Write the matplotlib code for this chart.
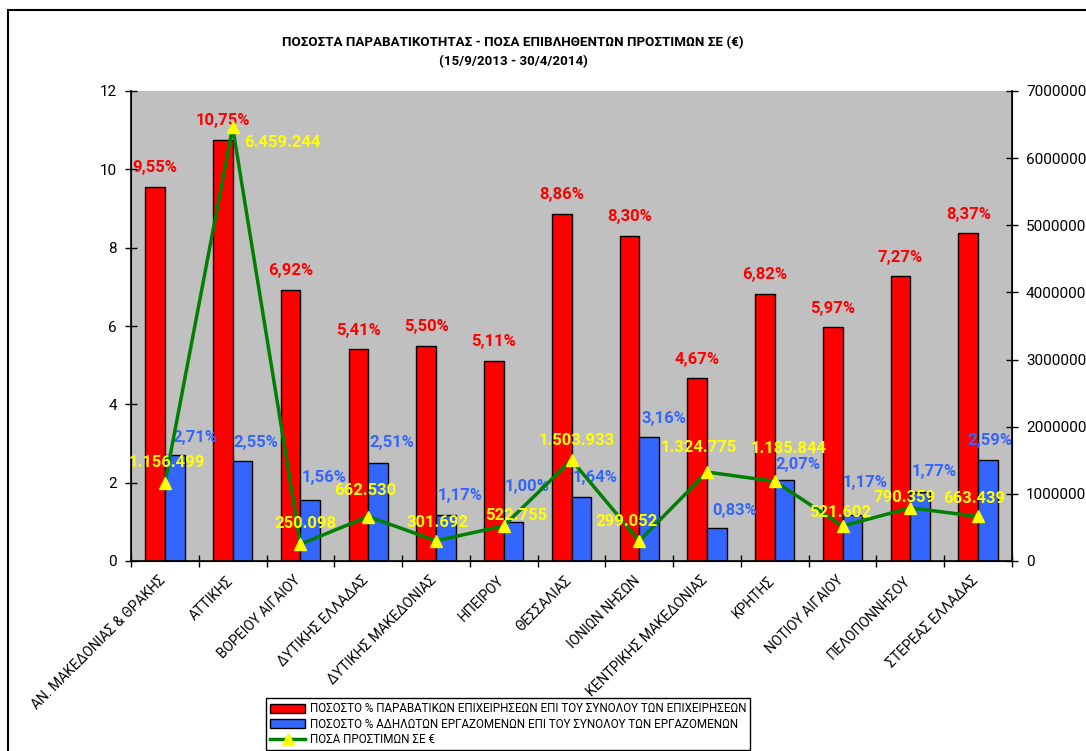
import matplotlib
matplotlib.use("Agg")
import matplotlib.pyplot as plt
from matplotlib.lines import Line2D
from matplotlib.patches import Patch, Rectangle
from matplotlib.ticker import FixedLocator, NullFormatter, FuncFormatter

plt.rcParams['font.family'] = ['Roboto', 'DejaVu Sans']

categories = ["ΑΝ. ΜΑΚΕΔΟΝΙΑΣ & ΘΡΑΚΗΣ", "ΑΤΤΙΚΗΣ", "ΒΟΡΕΙΟΥ ΑΙΓΑΙΟΥ", "ΔΥΤΙΚΗΣ ΕΛΛΑΔΑΣ",
              "ΔΥΤΙΚΗΣ ΜΑΚΕΔΟΝΙΑΣ", "ΗΠΕΙΡΟΥ", "ΘΕΣΣΑΛΙΑΣ", "ΙΟΝΙΩΝ ΝΗΣΩΝ",
              "ΚΕΝΤΡΙΚΗΣ ΜΑΚΕΔΟΝΙΑΣ", "ΚΡΗΤΗΣ", "ΝΟΤΙΟΥ ΑΙΓΑΙΟΥ", "ΠΕΛΟΠΟΝΝΗΣΟΥ", "ΣΤΕΡΕΑΣ ΕΛΛΑΔΑΣ"]
pct_businesses = [9.55, 10.75, 6.92, 5.41, 5.50, 5.11, 8.86, 8.30, 4.67, 6.82, 5.97, 7.27, 8.37]
pct_workers = [2.71, 2.55, 1.56, 2.51, 1.17, 1.00, 1.64, 3.16, 0.83, 2.07, 1.17, 1.77, 2.59]
fines = [1156499, 6459244, 250098, 662530, 301692, 522755, 1503933, 299052,
         1324775, 1185844, 521602, 790359, 663439]

legend_labels = ["ΠΟΣΟΣΤΟ % ΠΑΡΑΒΑΤΙΚΩΝ ΕΠΙΧΕΙΡΗΣΕΩΝ ΕΠΙ ΤΟΥ ΣΥΝΟΛΟΥ ΤΩΝ ΕΠΙΧΕΙΡΗΣΕΩΝ",
                 "ΠΟΣΟΣΤΟ % ΑΔΗΛΩΤΩΝ ΕΡΓΑΖΟΜΕΝΩΝ ΕΠΙ ΤΟΥ ΣΥΝΟΛΟΥ ΤΩΝ ΕΡΓΑΖΟΜΕΝΩΝ",
                 "ΠΟΣΑ ΠΡΟΣΤΙΜΩΝ ΣΕ €"]
title = "ΠΟΣΟΣΤΑ ΠΑΡΑΒΑΤΙΚΟΤΗΤΑΣ - ΠΟΣΑ ΕΠΙΒΛΗΘΕΝΤΩΝ ΠΡΟΣΤΙΜΩΝ ΣΕ (€)\n(15/9/2013 - 30/4/2014)"

# label offsets (pixels)
fine_offsets = [(2, 21), (50, -15), (5, 21), (-3, 26), (2, 18), (12, 10), (5, 20), (-13, 19),
                (-8, 25), (14, 33), (-2, 13), (-6, 10), (-4, 18)]
blue_offsets = [(20, 17), (13, 19), (14, 22), (14, 20), (14, 20), (14, 35), (14, 19), (15, 19),
                (18, 18), (13, 15), (13, 33), (14, 20), (2, 19)]

W, H = 1086, 751
fig = plt.figure(figsize=(W / 100, H / 100), dpi=100)
fig.patch.set_facecolor('white')
fig.add_artist(Rectangle((8 / W, -0.05), 2, (H - 10) / H + 0.05, transform=fig.transFigure,
                         fill=False, edgecolor='black', linewidth=1.5))

ax = fig.add_axes([131 / W, (H - 561) / H, 881 / W, 470 / H])
ax.set_facecolor('#C0C0C0')
n = len(categories)
x = list(range(n))
bw = 0.29
ax.bar([i - bw / 2 for i in x], pct_businesses, width=bw, color='#FF0000', edgecolor='black', linewidth=1, zorder=2)
ax.bar([i + bw / 2 for i in x], pct_workers, width=bw, color='#3366FF', edgecolor='black', linewidth=1, zorder=2)
ax.set_xlim(-0.5, n - 0.5)
ax.set_ylim(0, 12)
ax.set_yticks(range(0, 13, 2))
ax.tick_params(axis='y', direction='inout', length=8, width=1, labelsize=11, pad=6)
ax.xaxis.set_major_locator(FixedLocator([i - 0.5 for i in range(n + 1)]))
ax.xaxis.set_major_formatter(NullFormatter())
ax.xaxis.set_minor_locator(FixedLocator([i - 0.1 for i in x]))
ax.set_xticklabels(categories, minor=True, rotation=45, ha='right', rotation_mode='anchor', fontsize=10)
ax.tick_params(axis='x', which='major', direction='inout', length=8, width=1)
ax.tick_params(axis='x', which='minor', length=0, pad=9)
ax.spines['top'].set_visible(False)
for s in ['left', 'bottom']:
    ax.spines[s].set_linewidth(1.2)

for i, v in enumerate(pct_businesses):
    ax.annotate(f"{v:.2f}".replace('.', ',') + "%", (i - bw / 2, v), xytext=(0, 19),
                textcoords='offset pixels', ha='center', va='center', color='#FF0000',
                fontsize=12, fontweight='bold', zorder=5)
for i, v in enumerate(pct_workers):
    ax.annotate(f"{v:.2f}".replace('.', ',') + "%", (i + bw / 2, v), xytext=blue_offsets[i],
                textcoords='offset pixels', ha='center', va='center', color='#3366FF',
                fontsize=12, fontweight='bold', zorder=5)

ax2 = ax.twinx()
ax2.set_ylim(0, 7000000)
ax2.set_yticks(range(0, 7000001, 1000000))
ax2.yaxis.set_major_formatter(FuncFormatter(lambda v, p: f"{int(v)}"))
ax2.tick_params(axis='y', direction='inout', length=8, width=1, labelsize=11, pad=6)
ax2.spines['top'].set_visible(False)
ax2.spines['right'].set_linewidth(1.2)
ax2.plot(x, fines, color='#008000', linewidth=2.5, marker='^', markersize=9,
         markerfacecolor='#FFFF00', markeredgecolor='#FFFF00', zorder=4)
for i, v in enumerate(fines):
    lbl = f"{v:,}".replace(',', '.')
    ax2.annotate(lbl, (i, v), xytext=fine_offsets[i], textcoords='offset pixels', ha='center', va='center',
                 color='#FFFF00', fontsize=12, fontweight='bold', zorder=6)

fig.text(513 / W, 1 - 52 / H, title, ha='center', va='center', fontsize=9.6, fontweight='bold',
         linespacing=1.6)

handles = [Patch(facecolor='#FF0000', edgecolor='black'),
           Patch(facecolor='#3366FF', edgecolor='black'),
           Line2D([0], [0], color='#008000', linewidth=2.5, marker='^', markersize=8,
                  markerfacecolor='#FFFF00', markeredgecolor='#FFFF00')]
leg = fig.legend(handles, legend_labels, loc='lower left', bbox_to_anchor=(266 / W, 1 / H),
                 fontsize=8.4, frameon=True, fancybox=False, edgecolor='black', framealpha=1,
                 handlelength=3, handleheight=0.8, labelspacing=0.2, borderpad=0.35, handletextpad=0.4,
                 borderaxespad=0)
leg.get_frame().set_linewidth(1)

fig.savefig("out.png", dpi=100, facecolor='white')
